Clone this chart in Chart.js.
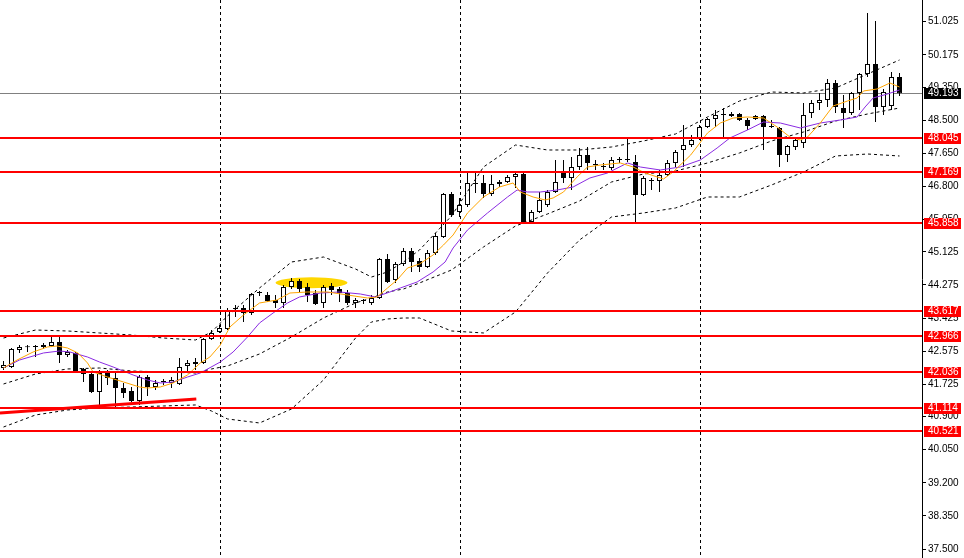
<!DOCTYPE html>
<html lang="en">
<head>
<meta charset="UTF-8">
<title>Candles with bands</title>
<script src="https://cdn.jsdelivr.net/npm/chart.js"></script>
<style>
  html, body { margin: 0; padding: 0; background: #fff; }
  #wrap { width: 964px; height: 558px; }
</style>
</head>
<body>
<div id="wrap"><canvas id="chart" width="964" height="558"></canvas></div>
<script>
// OHLC, one entry per bar (bar 0 = leftmost candle)
const opens = [42.145,42.171,42.607,42.680,42.684,42.684,42.709,42.812,42.479,42.530,
  42.120,41.991,41.530,42.017,41.889,41.632,41.556,41.299,41.914,41.658,
  41.786,41.761,41.735,42.197,42.248,42.274,42.889,43.068,43.145,43.658,
  43.684,43.556,44.068,44.017,43.889,43.812,44.222,44.376,44.222,44.068,
  43.812,44.248,44.171,44.068,43.812,43.863,43.812,43.940,44.940,44.402,
  44.812,45.145,44.889,44.735,45.094,45.504,46.607,46.145,46.325,46.863,
  46.889,46.607,46.863,46.914,47.043,47.120,45.889,46.145,46.325,46.658,
  47.171,47.017,47.299,47.607,47.350,47.299,47.273,47.478,47.478,47.427,
  46.581,46.940,46.940,47.094,47.402,47.735,47.863,48.043,48.325,48.530,
  48.632,48.607,48.658,48.504,48.530,48.607,48.350,48.299,47.607,47.812,
  47.914,48.684,48.940,49.017,49.453,48.812,48.684,49.197,49.684,49.940,
  48.838,48.863,49.607];
const highs = [42.325,42.658,42.735,42.735,42.735,42.786,42.966,42.940,42.607,42.555,
  42.145,42.017,42.094,42.094,42.043,41.761,41.658,41.966,41.966,41.837,
  41.863,41.914,42.402,42.350,42.402,42.914,43.119,43.248,43.684,43.761,
  43.761,44.068,44.120,44.094,44.017,44.274,44.453,44.427,44.325,44.145,
  44.274,44.325,44.222,44.145,43.940,43.914,44.017,44.966,45.068,44.863,
  45.222,45.222,44.966,45.171,45.607,46.632,46.658,46.504,47.145,47.145,
  47.094,47.094,46.966,47.094,47.171,47.145,46.196,46.658,46.709,47.478,
  47.478,47.555,47.786,47.812,47.478,47.402,47.555,47.555,48.042,47.607,
  47.068,47.017,47.222,47.478,47.735,48.376,48.120,48.376,48.555,48.760,
  48.812,48.709,48.684,48.555,48.632,48.632,48.504,48.325,47.863,48.068,
  48.940,49.017,49.197,49.555,49.530,49.145,49.222,49.709,51.248,51.042,
  49.299,49.735,49.709];
const lows = [42.094,42.145,42.530,42.555,42.427,42.632,42.684,42.274,42.427,42.017,
  41.786,41.504,41.197,41.709,41.145,41.376,41.273,41.197,41.427,41.581,
  41.709,41.632,41.709,42.017,42.094,42.248,42.863,43.043,43.119,43.453,
  43.325,43.504,43.991,43.837,43.684,43.684,44.171,44.094,43.837,43.761,
  43.684,44.017,43.837,43.761,43.684,43.786,43.761,43.914,44.325,44.325,
  44.761,44.607,44.607,44.709,45.043,45.478,46.017,46.017,46.274,46.632,
  46.504,46.556,46.786,46.889,46.761,45.863,45.863,46.120,46.274,46.632,
  46.889,46.709,47.222,47.222,47.222,47.222,47.222,47.402,47.427,45.889,
  46.556,46.709,46.658,47.068,47.299,47.299,47.812,47.991,48.299,48.325,
  48.068,48.581,48.478,48.248,48.504,47.735,48.299,47.299,47.427,47.735,
  47.786,48.555,48.760,48.838,48.684,48.299,48.632,48.760,49.607,48.453,
  48.632,48.760,49.120];
const closes = [42.222,42.632,42.684,42.680,42.684,42.735,42.812,42.479,42.555,42.043,
  41.991,41.530,42.017,41.889,41.632,41.504,41.299,41.914,41.658,41.761,
  41.786,41.837,42.171,42.274,42.299,42.889,43.043,43.171,43.632,43.658,
  43.556,44.043,44.068,43.863,43.812,44.222,44.376,44.171,44.017,43.786,
  44.222,44.145,44.068,43.812,43.889,43.863,43.940,44.940,44.350,44.812,
  45.145,44.863,44.735,45.094,45.530,46.607,46.068,46.325,46.889,46.863,
  46.607,46.863,46.914,47.043,47.120,45.889,46.145,46.453,46.658,46.914,
  47.017,47.299,47.607,47.402,47.350,47.299,47.478,47.478,47.478,46.581,
  47.017,46.940,47.094,47.402,47.684,47.863,47.991,48.325,48.530,48.632,
  48.632,48.658,48.504,48.350,48.607,48.325,48.325,47.607,47.838,47.991,
  48.632,48.940,49.017,49.453,48.838,48.684,49.197,49.684,49.940,48.838,
  49.222,49.607,49.193];

// fast (orange) and slow (purple) moving averages, read at these bar positions
const fastBars = [0,1.7,3.7,5.5,6.7,8,9.3,10.5,11.2,13,15,17,18,19.6,21.2,23,24.6,25.8,27.1,28.3,
  30,32,34.2,35.8,38,40.5,43,45.5,46.7,48,49.2,50.5,52,53.7,55,56.2,58,60,62,63.7,
  64.6,66.2,67.7,68.7,70,71.7,73,74.6,77.1,78.7,80.2,82.5,83.7,85.9,88,89.6,91.2,93,95,96.7,
  98.3,99.6,100.5,102.1,103.7,105.5,106.7,107.5,109.2,110.8,112];
const fastValues = [42.145,42.350,42.555,42.684,42.709,42.658,42.530,42.274,42.043,41.914,41.786,41.658,41.632,41.658,41.761,41.966,42.274,42.427,42.735,43.196,
  43.504,43.812,43.889,44.068,44.094,44.094,44.017,43.940,43.966,44.196,44.402,44.709,44.812,45.043,45.299,45.555,46.120,46.530,46.786,46.889,
  46.658,46.530,46.453,46.504,46.658,47.043,47.299,47.350,47.402,47.299,47.145,46.991,47.171,47.607,48.171,48.427,48.555,48.581,48.555,48.325,
  48.068,47.991,48.068,48.427,48.863,48.991,49.068,49.248,49.299,49.453,49.350];
const slowBars = [0,2,5,7,8.3,10.5,12,13.7,16.2,18,19.6,21.2,23,24.6,27.1,28.7,30.5,32,33.7,35.5,
  37,39.6,42,44.6,46.5,48.3,49.6,51.7,53.7,55.2,56.2,58,60.5,63,64.2,65.5,67.1,69.2,71.2,73.3,
  75.5,78,79.6,82.1,84.6,87.1,89.2,90.8,93,95,97.1,99.6,102.1,104.6,106.7,107.7,108.7,110.5,112];
const slowValues = [42.145,42.350,42.530,42.581,42.555,42.427,42.299,42.171,41.966,41.837,41.761,41.786,41.914,42.017,42.299,42.555,42.940,43.299,43.555,43.812,
  43.966,44.068,44.094,44.043,43.966,44.094,44.196,44.350,44.607,44.863,45.222,45.684,46.120,46.530,46.709,46.658,46.658,46.709,46.786,47.017,
  47.145,47.402,47.299,47.222,47.299,47.478,47.786,48.043,48.248,48.453,48.427,48.299,48.427,48.504,48.581,48.838,49.068,49.171,49.273];

// Bollinger bands, read at these bars
const bandBars = [0,4,8,12,16,20,24,26,28,32,36,40,44,46,48,50,52,56,60,64,68,72,76,80,84,88,92,96,100,104,108,112];
const bandUpper = [42.914,43.119,43.094,43.043,42.991,42.914,42.863,43.068,43.478,44.196,44.863,44.991,44.684,44.478,44.607,44.863,45.171,46.043,47.299,47.863,
  47.735,47.735,47.812,47.966,48.145,48.581,48.991,49.222,49.197,49.324,49.684,50.043];
const bandMiddle = [41.735,41.991,42.120,42.145,42.068,42.043,42.017,42.120,42.197,42.504,42.940,43.427,43.812,43.940,44.094,44.171,44.325,44.658,45.248,45.786,
  46.094,46.427,46.914,47.120,47.196,47.402,47.658,47.966,48.196,48.478,48.658,48.812];
const bandLower = [40.632,40.940,41.068,41.120,41.145,41.171,41.197,41.042,40.838,40.735,41.094,41.837,42.914,43.325,43.402,43.427,43.427,43.094,43.043,43.581,
  44.581,45.427,46.017,46.120,46.248,46.530,46.530,46.837,47.171,47.581,47.632,47.581];

// drawn objects
const levels = [48.045, 47.169, 45.858, 43.617, 42.966, 42.036, 41.114, 40.521];
const lastPrice = 49.193;
const trendBars = [-0.44, 24.1];
const trendValues = [40.99, 41.35];
const separatorBars = [27, 57, 87];
const highlight = { bar: 38.5, price: 44.33, halfBars: 4.5, halfPrice: 0.14 };

const axisTicks = [37.5, 38.35, 39.2, 40.05, 40.9, 41.725, 42.575, 43.425, 44.275, 45.125,
  45.95, 46.8, 47.65, 48.5, 49.35, 50.175, 51.025];

const FONT = '"Liberation Sans", Arial, sans-serif';
const pts = (xs, ys) => xs.map((x, k) => ({ x: x, y: ys[k] }));
const barIdx = opens.map((_, i) => i);

const overlay = {
  id: 'overlay',
  beforeDatasetsDraw(chart) {
    const { ctx, chartArea: a, scales: { x, y } } = chart;
    ctx.save();
    // separators
    ctx.strokeStyle = '#000';
    ctx.lineWidth = 1;
    ctx.setLineDash([3, 3]);
    separatorBars.forEach(b => {
      const px = Math.round(x.getPixelForValue(b)) + 0.5;
      ctx.beginPath(); ctx.moveTo(px, a.top); ctx.lineTo(px, a.bottom); ctx.stroke();
    });
    ctx.setLineDash([]);
    // highlight ellipse
    const cx = x.getPixelForValue(highlight.bar);
    const cy = y.getPixelForValue(highlight.price);
    const rx = x.getPixelForValue(highlight.bar + highlight.halfBars) - cx;
    const ry = y.getPixelForValue(highlight.price - highlight.halfPrice) - cy;
    ctx.fillStyle = '#FFD700';
    ctx.beginPath(); ctx.ellipse(cx, cy, rx, ry, 0, 0, Math.PI * 2); ctx.fill();
    // last price line
    const ly = Math.round(y.getPixelForValue(lastPrice)) + 0.5;
    ctx.strokeStyle = '#808080';
    ctx.beginPath(); ctx.moveTo(a.left, ly); ctx.lineTo(a.right, ly); ctx.stroke();
    ctx.restore();
  },
  afterDatasetsDraw(chart) {
    const { ctx, chartArea: a, scales: { y } } = chart;
    ctx.save();
    ctx.strokeStyle = '#FF0000';
    ctx.lineWidth = 2;
    levels.forEach(v => {
      const py = Math.round(y.getPixelForValue(v));
      ctx.beginPath(); ctx.moveTo(a.left, py); ctx.lineTo(a.right, py); ctx.stroke();
    });
    ctx.restore();
  },
  afterDraw(chart) {
    const { ctx, chartArea: a, scales: { y } } = chart;
    ctx.save();
    ctx.font = '10px ' + FONT;
    ctx.textBaseline = 'middle';
    const tag = (v, bg) => {
      const py = Math.round(y.getPixelForValue(v));
      ctx.fillStyle = bg;
      ctx.fillRect(a.right + 2, py - 5, 37, 11);
      ctx.fillStyle = '#fff';
      ctx.fillText(v.toFixed(3), a.right + 6, py + 0.5);
    };
    levels.forEach(v => tag(v, '#FF0000'));
    tag(lastPrice, '#000');
    ctx.restore();
  }
};

const lineDs = (label, data, color, dash, width) => ({
  type: 'line', label: label, data: data, borderColor: color, borderWidth: width || 1,
  borderDash: dash || [], pointRadius: 0, fill: false, tension: 0
});

new Chart(document.getElementById('chart'), {
  type: 'bar',
  data: {
    datasets: [
      Object.assign(lineDs('Fast MA', pts(fastBars, fastValues), '#FFA500'), { order: 0 }),
      Object.assign(lineDs('Slow MA', pts(slowBars, slowValues), '#8A2BE2'), { order: 1 }),
      Object.assign(lineDs('Upper band', pts(bandBars, bandUpper), '#000', [3, 3]), { order: 2 }),
      Object.assign(lineDs('Middle band', pts(bandBars, bandMiddle), '#000', [3, 3]), { order: 3 }),
      Object.assign(lineDs('Lower band', pts(bandBars, bandLower), '#000', [3, 3]), { order: 4 }),
      Object.assign(lineDs('Trend', pts(trendBars, trendValues), '#FF0000', [], 3), { order: 5 }),
      {
        label: 'Body', order: 6,
        data: barIdx.map(i => ({ x: i, y: [opens[i], closes[i]] })),
        backgroundColor: c => closes[c.dataIndex] > opens[c.dataIndex] ? '#fff' : '#000',
        borderColor: '#000', borderWidth: 1, borderSkipped: false,
        barThickness: 5, minBarLength: 1, grouped: false, inflateAmount: 0
      },
      {
        label: 'Wick', order: 7,
        data: barIdx.map(i => ({ x: i, y: [lows[i], highs[i]] })),
        backgroundColor: '#000', borderWidth: 0,
        barThickness: 1, grouped: false, inflateAmount: 0
      }
    ]
  },
  options: {
    responsive: false,
    animation: false,
    devicePixelRatio: 1,
    layout: { padding: 0 },
    plugins: { legend: { display: false }, tooltip: { enabled: false } },
    scales: {
      x: { type: 'linear', min: -0.4375, max: 114.8125, offset: false, display: false },
      y: {
        position: 'right',
        min: 37.273, max: 51.581,
        afterBuildTicks: s => { s.ticks = axisTicks.map(v => ({ value: v })); },
        afterFit: s => { s.width = 42; s.paddingTop = 0; s.paddingBottom = 0; },
        ticks: {
          callback: v => Number(v).toFixed(3),
          color: '#000', padding: 2, autoSkip: false,
          font: { family: FONT, size: 10 }
        },
        grid: { drawOnChartArea: false, drawTicks: true, tickLength: 4, color: '#000' },
        border: { display: true, color: '#000' }
      }
    }
  },
  plugins: [overlay]
});
</script>
</body>
</html>
